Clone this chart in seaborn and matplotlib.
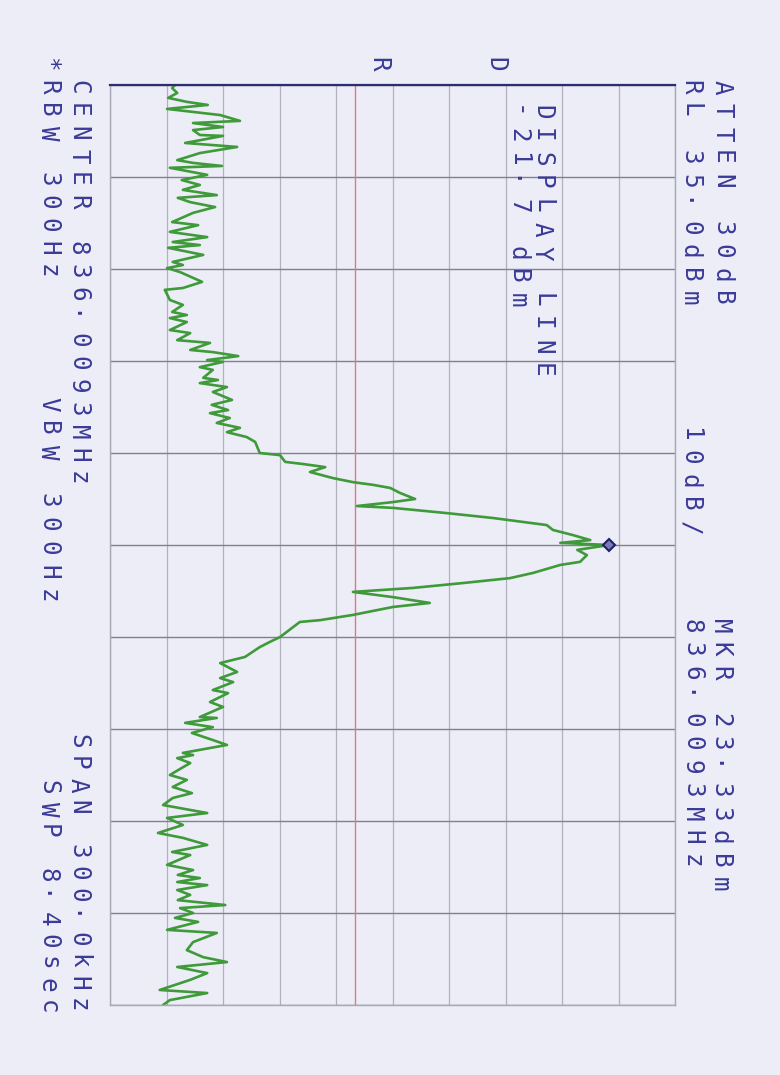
import numpy as np
import pandas as pd
import matplotlib
matplotlib.use('Agg')
import matplotlib.pyplot as plt
import seaborn as sns

# --- Trace data (frequency offset from center in kHz, level in dBm) ---
upper_khz = [-150.0, -149.0, -147.4, -145.8, -144.5, -143.5, -142.2, -140.2, -138.3, -137.6,
             -136.3, -135.3, -133.7, -133.4, -131.1, -129.8, -127.8, -125.5, -124.6, -123.6,
             -123.0, -120.7, -119.0, -117.4, -115.8, -114.1, -113.2, -111.8,
             -110.2, -108.3, -105.3, -104.3, -102.1, -100.4, -98.8, -97.8, -96.9, -94.6,
             -92.3, -91.3, -90.3, -89.0, -85.8, -83.8, -83.2, -79.9, -78.3, -76.0,
             -75.0, -74.0, -72.7,
             -70.1, -69.1, -66.8, -65.9, -63.6, -62.9, -61.6, -60.3, -59.7, -58.0,
             -57.1, -54.5, -53.8, -52.8, -51.5, -49.9, -47.3, -45.7, -44.0, -43.0,
             -41.4, -39.8, -38.2, -36.8, -35.2, -33.6]
upper_dbm = [-53.5, -54.0, -53.1, -54.7, -51.4, -47.7, -54.9, -45.5, -42.0, -50.3,
             -45.0, -50.3, -49.1, -45.0, -51.7, -42.5, -49.1, -53.1, -50.3, -45.2,
             -54.4, -47.8, -52.3, -49.1, -52.1, -46.1, -53.0, -50.8,
             -46.4, -50.3, -54.0, -49.4, -54.4, -47.8, -53.9, -49.1, -54.7, -48.5,
             -53.9, -52.1, -54.9, -52.6, -48.7, -52.1, -55.3, -54.4, -52.1, -54.0,
             -51.4, -54.4, -51.4,
             -54.4, -50.8, -53.1, -47.3, -50.8, -46.8, -42.3, -47.8, -45.0, -49.1,
             -46.8, -48.5, -45.9, -49.1, -44.3, -46.8, -43.4, -47.0, -44.1, -47.3,
             -43.8, -46.1, -42.0, -44.3, -40.8, -39.3]

peak_khz = [-30.0, -29.3, -27.1, -26.4, -25.4, -23.8, -21.8, -20.5, -19.6, -18.6,
            -17.0, -15.0, -14.0, -12.7, -12.1, -10.4, -8.8, -7.5, -6.5, -4.9,
            -3.3, -1.6, -0.7, 0.0,
            1.6, 3.3, 5.5, 6.5, 9.1, 10.8, 12.4, 14.0, 15.3, 17.0,
            18.9, 20.2, 22.8, 24.5, 25.1]
peak_dbm = [-38.5, -34.9, -34.0, -30.8, -26.9, -29.6, -25.5, -22.0, -18.4, -15.4,
            -13.7, -11.0, -14.9, -21.3, -14.9, -5.4, 2.8, 8.1, 12.3, 13.4,
            16.8, 20.0, 14.7, 23.33,
            17.7, 19.4, 18.2, 14.7, 9.9, 5.8, -2.5, -11.4, -22.0, -14.9,
            -8.4, -14.9, -22.0, -27.8, -31.4]

lower_khz = [30.0, 31.6, 33.3, 36.5, 38.5, 41.4, 43.4, 44.7, 47.3, 48.3,
             51.2, 52.8, 56.1, 56.4, 58.0, 59.4, 61.3, 63.6, 65.2, 67.8,
             68.5, 69.5, 71.1,
             72.7, 75.0, 76.6, 78.9, 80.9, 82.5, 84.8, 87.4, 89.0, 91.3,
             93.9, 95.5, 97.8, 100.1, 101.1, 104.3, 106.0, 107.6, 108.6, 109.9,
             110.9, 112.5, 114.1, 115.8, 117.4, 118.4, 120.0, 121.6, 122.9, 125.5,
             126.5, 129.5, 132.1, 134.4, 136.0, 137.6, 139.6, 141.8, 145.1, 146.1,
             148.4, 150.0]
lower_dbm = [-34.9, -36.7, -38.5, -41.1, -45.5, -42.5, -45.5, -43.2, -46.8, -44.1,
             -47.3, -45.0, -49.1, -46.1, -51.7, -46.8, -50.5, -46.8, -44.3, -52.1,
             -50.3, -53.1, -50.8,
             -52.3, -54.4, -51.4, -53.9, -50.5, -53.9, -55.6, -47.8, -54.9, -52.1,
             -56.5, -52.1, -47.8, -54.0, -50.8, -54.9, -50.3, -53.0, -49.1, -53.1,
             -47.8, -53.1, -50.8, -53.0, -44.6, -52.6, -50.3, -53.5, -49.4, -54.9,
             -46.1, -50.3, -51.4, -48.5, -44.3, -53.1, -47.8, -50.8, -56.2, -47.8,
             -54.4, -55.6]

REF_LEVEL = 35.0
DB_PER_DIV = 10
SPAN_KHZ = 300.0
DISPLAY_LINE = -21.7
MARKER = (23.33, 0.0)

# --- Annotation text: (string, x centre px, y top px, glyph pitch px) ---
right_labels = [("ATTEN 30dB", 722, 78, 23.5), ("RL 35.0dBm", 690, 78, 23.5),
                ("10dB/", 690, 425, 23.5),
                ("MKR 23.33dBm", 720, 617, 23.5), ("836.0093MHz", 692, 617, 23.5)]
inner_labels = [("DISPLAY LINE", 542, 103, 23.5), ("-21.7 dBm", 518, 103, 23.5),
                ("D", 495, 55, 23.5), ("R", 378, 55, 23.5)]
left_labels = [("CENTER 836.0093MHz", 78, 78, 23.0), ("*RBW 300Hz", 48, 55, 23.0),
               ("VBW 300Hz", 48, 395, 24.0),
               ("SPAN 300.0kHz", 78, 732, 22.0), ("SWP 8.40sec", 48, 778, 22.0)]

PAPER = '#ededf7'
INK = '#3a3a98'
TRACE = '#3f9a3a'
W, H = 780, 1075

sns.set_style('white')
plt.rcParams['font.family'] = ['DejaVu Sans Mono', 'DejaVu Sans']

fig = plt.figure(figsize=(W / 100, H / 100), dpi=100, facecolor=PAPER)
ax = fig.add_axes([110 / W, 1 - 1005 / H, 565 / W, 920 / H])
ax.set_facecolor(PAPER)

df = pd.DataFrame({'khz': upper_khz + peak_khz + lower_khz,
                   'dbm': upper_dbm + peak_dbm + lower_dbm})
sns.lineplot(data=df, x='dbm', y='khz', sort=False, estimator=None, orient='y',
             color=TRACE, lw=1.9, ax=ax)

bottom = REF_LEVEL - 10 * DB_PER_DIV
ax.set_xlim(bottom, REF_LEVEL)
ax.set_ylim(SPAN_KHZ / 2, -SPAN_KHZ / 2)
ax.set_xticks(np.arange(bottom, REF_LEVEL + 1, DB_PER_DIV))
ax.set_yticks(np.arange(-SPAN_KHZ / 2, SPAN_KHZ / 2 + 1, SPAN_KHZ / 10))
ax.set_xticklabels([])
ax.set_yticklabels([])
ax.tick_params(length=0)
ax.set_xlabel('')
ax.set_ylabel('')
ax.grid(axis='x', color='#b2b2be', lw=0.9)
ax.grid(axis='y', color='#7f7f95', lw=1.0)
ax.set_axisbelow(True)
for side in ['left', 'right', 'bottom']:
    ax.spines[side].set_color('#a8a8b6')
    ax.spines[side].set_linewidth(1.0)
ax.spines['top'].set_color('#2c2c70')
ax.spines['top'].set_linewidth(1.6)

ax.axvline(DISPLAY_LINE, color='#e07a7a', lw=1.0, zorder=1.5)
ax.plot(*MARKER, marker='D', ms=6, mfc='#7a7ab8', mec='#202068', mew=1.5, zorder=5)


def plot_text(s, x, y, pitch):
    """Plotter style vertical text, one glyph per cell."""
    for i, ch in enumerate(s):
        if ch == ' ':
            continue
        fig.text(x / W, 1 - (y + 9 + i * pitch) / H, ch, rotation=-90,
                 ha='center', va='center', color=INK, fontsize=17.5)


for s, x, y, pitch in right_labels + inner_labels + left_labels:
    plot_text(s, x, y, pitch)

fig.savefig('out.png', dpi=100, facecolor=PAPER)
